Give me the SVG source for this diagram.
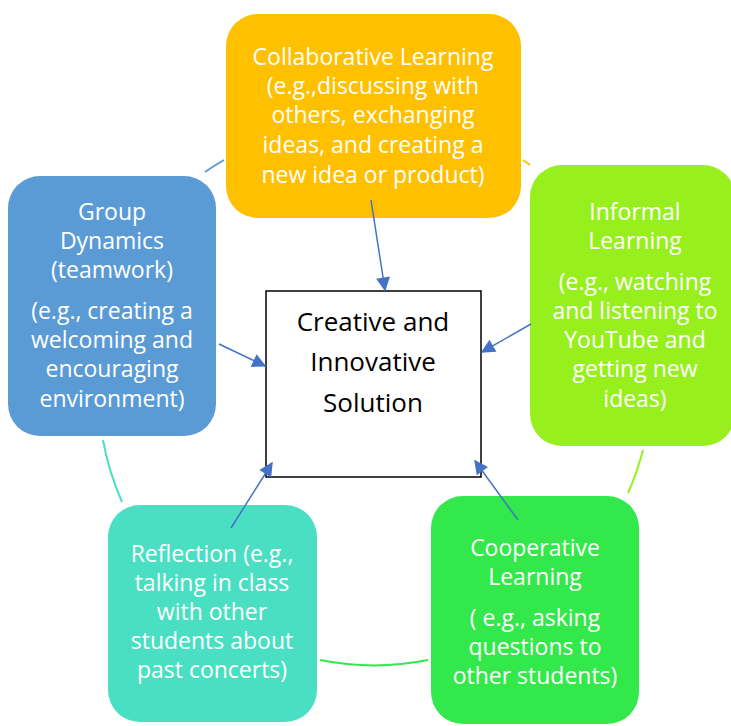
<svg xmlns="http://www.w3.org/2000/svg" width="731" height="726" viewBox="0 0 731 726">
<defs>
<style>
.t{font-family:"Open Sans","Liberation Sans",Arial,sans-serif;font-size:23px;fill:#fff;text-anchor:middle}
.c{font-family:"Open Sans","Liberation Sans",Arial,sans-serif;font-size:26px;fill:#000;text-anchor:middle}
.arc{fill:none;stroke-width:2}
.ar{stroke:#4472C4;stroke-width:1.5;fill:none;marker-end:url(#ah)}
</style>
<marker id="ah" viewBox="0 0 10 10" refX="9" refY="5" markerWidth="16" markerHeight="14" markerUnits="userSpaceOnUse" orient="auto">
<path d="M0,0 L10,5 L0,10 z" fill="#4472C4"/>
</marker>
</defs>
<rect width="731" height="726" fill="#fff"/>
<g id="cycle">
<path class="arc" stroke="#5B9BD5" d="M205,172 A275,275 0 0 1 224,160"/>
<path class="arc" stroke="#FFC000" d="M523,160 A275,275 0 0 1 530,165"/>
<path class="arc" stroke="#97F01E" d="M643,450 A275,275 0 0 1 628,493"/>
<path class="arc" stroke="#33E84A" d="M428,660 A275,275 0 0 1 320,660"/>
<path class="arc" stroke="#4ADFC2" d="M122,502 A275,275 0 0 1 103,440"/>
</g>
<g id="collab">
<rect x="226" y="14" width="295" height="204" rx="32" fill="#FFC000"/>
<text class="t" x="373" y="65">Collaborative Learning</text>
<text class="t" x="373" y="94">(e.g.,discussing with</text>
<text class="t" x="373" y="123">others, exchanging</text>
<text class="t" x="373" y="153">ideas, and creating a</text>
<text class="t" x="373" y="183">new idea or product)</text>
</g>
<g id="group">
<rect x="8" y="176" width="208" height="260" rx="32" fill="#5B9BD5"/>
<text class="t" x="112" y="220">Group</text>
<text class="t" x="112" y="249">Dynamics</text>
<text class="t" x="112" y="278">(teamwork)</text>
<text class="t" x="112" y="319">(e.g., creating a</text>
<text class="t" x="112" y="348">welcoming and</text>
<text class="t" x="112" y="377">encouraging</text>
<text class="t" x="112" y="407">environment)</text>
</g>
<g id="informal">
<rect x="530" y="165" width="205" height="281" rx="32" fill="#97F01E"/>
<text class="t" x="635" y="220">Informal</text>
<text class="t" x="635" y="249">Learning</text>
<text class="t" x="635" y="290">(e.g., watching</text>
<text class="t" x="635" y="319">and listening to</text>
<text class="t" x="635" y="348">YouTube and</text>
<text class="t" x="635" y="377">getting new</text>
<text class="t" x="635" y="407">ideas)</text>
</g>
<g id="coop">
<rect x="431" y="496" width="208" height="228" rx="32" fill="#33E84A"/>
<text class="t" x="535" y="556">Cooperative</text>
<text class="t" x="535" y="585">Learning</text>
<text class="t" x="535" y="626">( e.g., asking</text>
<text class="t" x="535" y="655">questions to</text>
<text class="t" x="535" y="684">other students)</text>
</g>
<g id="reflection">
<rect x="108" y="505" width="209" height="217" rx="32" fill="#4ADFC2"/>
<text class="t" x="212" y="562">Reflection (e.g.,</text>
<text class="t" x="212" y="591">talking in class</text>
<text class="t" x="212" y="620">with other</text>
<text class="t" x="212" y="649">students about</text>
<text class="t" x="212" y="678">past concerts)</text>
</g>
<g id="center">
<rect x="266" y="291" width="215" height="186" fill="#fff" stroke="#000" stroke-width="1.5"/>
<text class="c" x="373" y="331">Creative and</text>
<text class="c" x="373" y="371">Innovative</text>
<text class="c" x="373" y="412">Solution</text>
</g>
<g id="connectors">
<path class="ar" d="M371,200 L385,290"/>
<path class="ar" d="M219,344 L265,366"/>
<path class="ar" d="M531,324 L482,352"/>
<path class="ar" d="M231,528 L272,463"/>
<path class="ar" d="M518,520 L475,461"/>
</g>
</svg>
